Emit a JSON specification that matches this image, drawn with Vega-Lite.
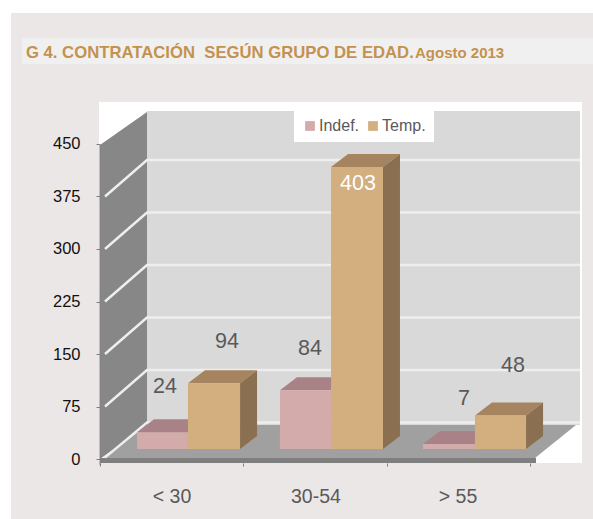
{
"$schema":"https://vega.github.io/schema/vega-lite/v6.json",
"width":593,"height":519,"padding":0,"autosize":{"type":"none"},"background":"#ffffff",
"config":{"view":{"stroke":null},"font":"Liberation Sans"},
"datasets":{
"paneles":[
{"parte":"pagina","x":-0.6202,"x2":3.4355,"y":637.1,"y2":-85.71},
{"parte":"banda","x":-0.5436,"x2":3.4355,"y":601.4,"y2":564.3},
{"parte":"trazado","x":-0.007,"x2":3.359,"y":510,"y2":-5.71},
{"parte":"pared","x":0.3275,"x2":3.345,"y":497.1,"y2":48.57},
{"parte":"zocalo","x":0,"x2":3.0383,"y":1.43,"y2":-5.71}
],
"suelo":[
{"cara":"izquierda","x":0,"y":0,"y2":448.6},
{"cara":"izquierda","x":0.3275,"y":48.57,"y2":495.7},
{"cara":"suelo","x":0.0279,"y":1.43,"y2":1.43},
{"cara":"suelo","x":0.3275,"y":1.43,"y2":48.57},
{"cara":"suelo","x":3.0314,"y":1.43,"y2":48.57},
{"cara":"suelo","x":3.3171,"y":48.57,"y2":48.57}
],
"rejilla":[
{"t":0,"x":0.0348,"y":2},{"t":0,"x":0.3275,"y":52.14},{"t":0,"x":3.345,"y":52.14},
{"t":75,"x":0.0348,"y":75},{"t":75,"x":0.3275,"y":127.14},{"t":75,"x":3.345,"y":127.14},
{"t":150,"x":0.0348,"y":150},{"t":150,"x":0.3275,"y":202.14},{"t":150,"x":3.345,"y":202.14},
{"t":225,"x":0.0348,"y":225},{"t":225,"x":0.3275,"y":277.14},{"t":225,"x":3.345,"y":277.14},
{"t":300,"x":0.0348,"y":300},{"t":300,"x":0.3275,"y":352.14},{"t":300,"x":3.345,"y":352.14},
{"t":375,"x":0.0348,"y":375},{"t":375,"x":0.3275,"y":427.14},{"t":375,"x":3.345,"y":427.14}
],
"caras":[
{"id":"a","cara":"sup Indef.","x":0.258,"y":24,"y2":24},{"id":"a","cara":"sup Indef.","x":0.3765,"y":24,"y2":42.57},{"id":"a","cara":"sup Indef.","x":0.613,"y":24,"y2":42.57},{"id":"a","cara":"sup Indef.","x":0.7315,"y":42.57,"y2":42.57},
{"id":"b","cara":"sup Indef.","x":1.254,"y":84,"y2":84},{"id":"b","cara":"sup Indef.","x":1.3725,"y":84,"y2":102.57},{"id":"b","cara":"sup Indef.","x":1.61,"y":84,"y2":102.57},{"id":"b","cara":"sup Indef.","x":1.7285,"y":102.57,"y2":102.57},
{"id":"c","cara":"sup Indef.","x":2.251,"y":7,"y2":7},{"id":"c","cara":"sup Indef.","x":2.3695,"y":7,"y2":25.57},{"id":"c","cara":"sup Indef.","x":2.613,"y":7,"y2":25.57},{"id":"c","cara":"sup Indef.","x":2.7315,"y":25.57,"y2":25.57},
{"id":"d","cara":"sup Temp.","x":0.613,"y":94,"y2":94},{"id":"d","cara":"sup Temp.","x":0.7315,"y":94,"y2":112.57},{"id":"d","cara":"sup Temp.","x":0.976,"y":94,"y2":112.57},{"id":"d","cara":"sup Temp.","x":1.0945,"y":112.57,"y2":112.57},
{"id":"e","cara":"sup Temp.","x":1.61,"y":403,"y2":403},{"id":"e","cara":"sup Temp.","x":1.7285,"y":403,"y2":421.57},{"id":"e","cara":"sup Temp.","x":1.972,"y":403,"y2":421.57},{"id":"e","cara":"sup Temp.","x":2.0905,"y":421.57,"y2":421.57},
{"id":"f","cara":"sup Temp.","x":2.613,"y":48,"y2":48},{"id":"f","cara":"sup Temp.","x":2.7315,"y":48,"y2":66.57},{"id":"f","cara":"sup Temp.","x":2.969,"y":48,"y2":66.57},{"id":"f","cara":"sup Temp.","x":3.0875,"y":66.57,"y2":66.57},
{"id":"g","cara":"lado Temp.","x":0.976,"y":0,"y2":94},{"id":"g","cara":"lado Temp.","x":1.0945,"y":18.57,"y2":112.57},
{"id":"h","cara":"lado Temp.","x":1.972,"y":0,"y2":403},{"id":"h","cara":"lado Temp.","x":2.0905,"y":18.57,"y2":421.57},
{"id":"i","cara":"lado Temp.","x":2.969,"y":0,"y2":48},{"id":"i","cara":"lado Temp.","x":3.0875,"y":18.57,"y2":66.57}
],
"barras":[
{"grupo":"< 30","serie":"Indef.","valor":24,"x0":0.258,"x1":0.613,"etqX":0.453,"etqY":102.9},
{"grupo":"< 30","serie":"Temp.","valor":94,"x0":0.613,"x1":0.976,"etqX":0.885,"etqY":167.1},
{"grupo":"30-54","serie":"Indef.","valor":84,"x0":1.254,"x1":1.61,"etqX":1.463,"etqY":157.1},
{"grupo":"30-54","serie":"Temp.","valor":403,"x0":1.61,"x1":1.972,"etqX":1.798,"etqY":392.9},
{"grupo":"> 55","serie":"Indef.","valor":7,"x0":2.251,"x1":2.613,"etqX":2.537,"etqY":85.7},
{"grupo":"> 55","serie":"Temp.","valor":48,"x0":2.613,"x1":2.969,"etqX":2.878,"etqY":132.9}
],
"grupos":[{"grupo":"< 30","x":0.502,"y":-54.3},{"grupo":"30-54","x":1.505,"y":-54.3},{"grupo":"> 55","x":2.495,"y":-54.3}]
},
"layer":[
{"data":{"name":"paneles"},"mark":{"type":"rect"},
 "encoding":{
  "x":{"field":"x","type":"quantitative","scale":{"domain":[-0.69686,3.43554],"nice":false,"zero":false},
       "axis":{"orient":"bottom","offset":-56,"values":[0,1,2,3],"labels":false,"domain":false,"grid":false,"tickSize":3,"tickColor":"#7f7f7f","title":null,"zindex":1}},
  "x2":{"field":"x2"},
  "y":{"field":"y","type":"quantitative","scale":{"domain":[-85.714,655.714],"nice":false,"zero":false},
       "axis":{"orient":"left","offset":-100,"values":[0,75,150,225,300,375,450],"domain":false,"grid":false,"tickSize":4,"tickColor":"#7f7f7f","labelPadding":16,"labelFontSize":16.5,"labelColor":"#111111","labelFont":"Liberation Sans","title":null,"zindex":1}},
  "y2":{"field":"y2"},
  "fill":{"field":"parte","type":"nominal","legend":null,"scale":{"domain":["pagina","banda","trazado","pared","zocalo"],"range":["#ece7e7","#f1f0f0","#ffffff","#d9d9d9","#7f7f7f"]}}
 }},
{"data":{"name":"suelo"},"mark":{"type":"area","orient":"vertical","interpolate":"linear"},
 "encoding":{
  "x":{"field":"x","type":"quantitative","scale":{"domain":[-0.69686,3.43554],"nice":false,"zero":false}},
  "y":{"field":"y","type":"quantitative","stack":null,"scale":{"domain":[-85.714,655.714],"nice":false,"zero":false}},
  "y2":{"field":"y2"},
  "detail":{"field":"cara"},
  "fill":{"field":"cara","type":"nominal","legend":null,"scale":{"domain":["izquierda","suelo"],"range":["#878787","#a0a0a0"]}}
 }},
{"data":{"name":"rejilla"},"mark":{"type":"line","stroke":"#eeeeee","strokeWidth":2.5,"interpolate":"linear"},
 "encoding":{
  "x":{"field":"x","type":"quantitative","scale":{"domain":[-0.69686,3.43554],"nice":false,"zero":false}},
  "y":{"field":"y","type":"quantitative","scale":{"domain":[-85.714,655.714],"nice":false,"zero":false}},
  "detail":{"field":"t"}
 }},
{"data":{"name":"caras"},"mark":{"type":"area","orient":"vertical","interpolate":"linear","yOffset":-10,"y2Offset":-10},
 "encoding":{
  "x":{"field":"x","type":"quantitative","scale":{"domain":[-0.69686,3.43554],"nice":false,"zero":false}},
  "y":{"field":"y","type":"quantitative","stack":null,"scale":{"domain":[-85.714,655.714],"nice":false,"zero":false}},
  "y2":{"field":"y2"},
  "detail":{"field":"id"},
  "fill":{"field":"cara","type":"nominal","legend":null,"scale":{"domain":["sup Indef.","sup Temp.","lado Temp."],"range":["#a98287","#a5845f","#8a7050"]}}
 }},
{"data":{"name":"barras"},"mark":{"type":"rect","yOffset":-10,"y2Offset":-10},
 "encoding":{
  "x":{"field":"x0","type":"quantitative","scale":{"domain":[-0.69686,3.43554],"nice":false,"zero":false}},
  "x2":{"field":"x1"},
  "y":{"field":"valor","type":"quantitative","scale":{"domain":[-85.714,655.714],"nice":false,"zero":false}},
  "y2":{"datum":0},
  "color":{"field":"serie","type":"nominal","scale":{"domain":["Indef.","Temp."],"range":["#d3abab","#d3ae7f"]},
   "legend":{"orient":"none","legendX":294,"legendY":110,"direction":"horizontal","fillColor":"#ffffff","padding":8,"title":null,"symbolType":"square","symbolSize":95,"symbolStrokeWidth":0,"labelFontSize":16,"labelColor":"#595959","labelFont":"Liberation Sans","columnPadding":5,"labelOffset":1}}
 }},
{"data":{"name":"barras"},"mark":{"type":"text","fontSize":21.5,"baseline":"middle","align":"center"},
 "encoding":{
  "x":{"field":"etqX","type":"quantitative","scale":{"domain":[-0.69686,3.43554],"nice":false,"zero":false}},
  "y":{"field":"etqY","type":"quantitative","scale":{"domain":[-85.714,655.714],"nice":false,"zero":false}},
  "text":{"field":"valor","type":"quantitative"},
  "fill":{"condition":{"test":"datum.valor==403","value":"#ffffff"},"value":"#595959"}
 }},
{"data":{"name":"grupos"},"mark":{"type":"text","fontSize":19.5,"baseline":"middle","align":"center","fill":"#595959"},
 "encoding":{
  "x":{"field":"x","type":"quantitative","scale":{"domain":[-0.69686,3.43554],"nice":false,"zero":false}},
  "y":{"field":"y","type":"quantitative","scale":{"domain":[-85.714,655.714],"nice":false,"zero":false}},
  "text":{"field":"grupo"}
 }},
{"data":{"values":[{"x":0,"y":448.6,"y2":-8.57}]},"mark":{"type":"rule","stroke":"#7f7f7f","strokeWidth":1},
 "encoding":{
  "x":{"field":"x","type":"quantitative","scale":{"domain":[-0.69686,3.43554],"nice":false,"zero":false}},
  "y":{"field":"y","type":"quantitative","scale":{"domain":[-85.714,655.714],"nice":false,"zero":false}},
  "y2":{"field":"y2"}
 }},
{"data":{"values":[{"texto":"G 4. CONTRATACIÓN\u00a0 SEGÚN GRUPO DE EDAD.","x":-0.516,"y":572.9}]},
 "mark":{"type":"text","font":"Liberation Sans","fontWeight":"bold","fontSize":16.7,"align":"left","baseline":"alphabetic","fill":"#c4924f"},
 "encoding":{
  "x":{"field":"x","type":"quantitative","scale":{"domain":[-0.69686,3.43554],"nice":false,"zero":false}},
  "y":{"field":"y","type":"quantitative","scale":{"domain":[-85.714,655.714],"nice":false,"zero":false}},
  "text":{"field":"texto"}
 }},
{"data":{"values":[{"texto":"Agosto 2013","x":2.195,"y":572.9}]},
 "mark":{"type":"text","font":"Liberation Sans","fontWeight":"bold","fontSize":15,"align":"left","baseline":"alphabetic","fill":"#c4924f"},
 "encoding":{
  "x":{"field":"x","type":"quantitative","scale":{"domain":[-0.69686,3.43554],"nice":false,"zero":false}},
  "y":{"field":"y","type":"quantitative","scale":{"domain":[-85.714,655.714],"nice":false,"zero":false}},
  "text":{"field":"texto"}
 }}
],
"resolve":{"scale":{"fill":"independent"}}
}
